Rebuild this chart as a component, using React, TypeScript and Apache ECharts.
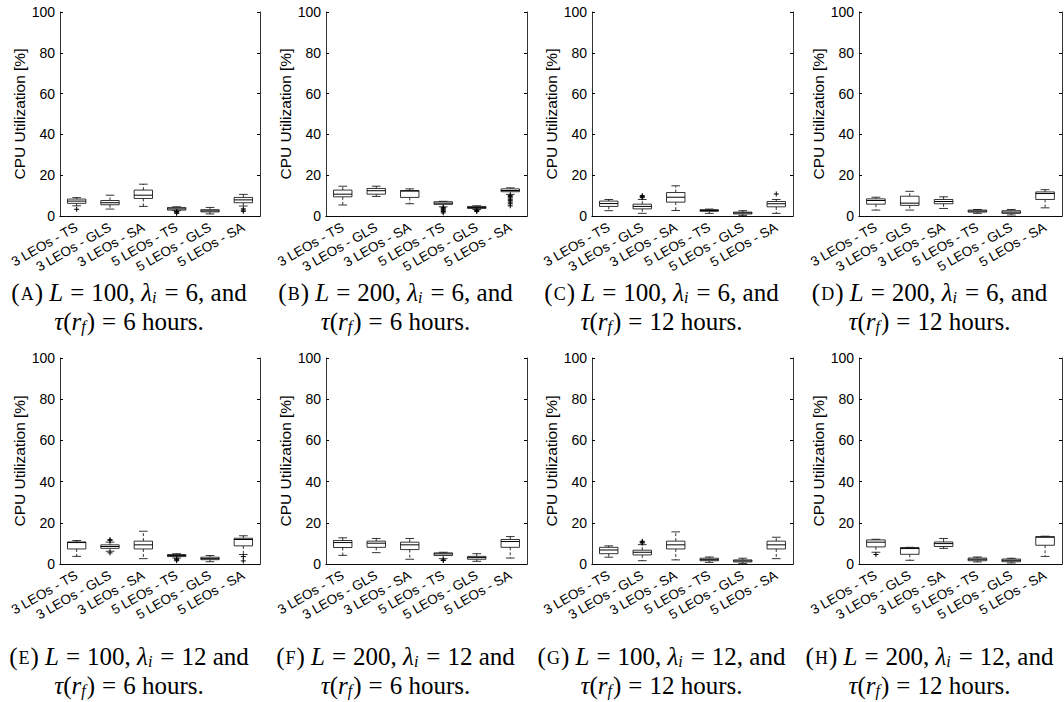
import React, { useEffect, useRef } from "react";
import * as echarts from "echarts";

// ---------- data ----------
const categories = ["3 LEOs - TS", "3 LEOs - GLS", "3 LEOs - SA", "5 LEOs - TS", "5 LEOs - GLS", "5 LEOs - SA"];
const yTicks = [0, 20, 40, 60, 80, 100];
const yAxisTitle = "CPU Utilization [%]";

// each box: [min, q1, median, q3, max]
const boxesA = [[5.0, 6.2, 7.3, 8.3, 9.0], [3.4, 5.5, 6.5, 7.6, 10.2], [4.7, 8.6, 10.2, 12.7, 15.6], [2.6, 2.9, 3.5, 4.2, 4.5], [1.0, 2.0, 2.5, 3.1, 4.2], [4.9, 6.5, 7.9, 9.1, 10.6]];
const boxesB = [[5.4, 9.4, 10.7, 12.7, 14.6], [9.6, 10.7, 12.4, 13.5, 14.6], [6.0, 9.1, 12.2, 12.5, 13.3], [4.5, 5.7, 6.3, 7.0, 7.2], [3.2, 3.7, 4.2, 4.7, 5.0], [10.6, 11.9, 12.5, 13.3, 13.8]];
const boxesC = [[2.6, 4.7, 6.1, 7.3, 8.1], [1.3, 3.5, 4.7, 5.8, 8.1], [2.7, 6.8, 9.2, 11.5, 14.8], [1.3, 2.3, 2.7, 3.1, 3.4], [0.3, 1.0, 1.5, 1.9, 2.6], [1.3, 4.5, 6.0, 7.1, 8.1]];
const boxesD = [[2.9, 5.8, 7.6, 8.4, 9.2], [2.9, 5.2, 6.3, 9.7, 12.1], [3.7, 6.0, 7.1, 8.1, 9.4], [1.3, 1.9, 2.4, 2.9, 3.2], [0.5, 1.3, 1.9, 2.6, 3.2], [4.0, 8.1, 11.0, 11.8, 12.9]];
const boxesE = [[3.7, 7.3, 10.4, 10.7, 11.4], [6.2, 7.6, 8.5, 9.3, 10.6], [2.6, 7.3, 9.3, 11.1, 15.9], [2.9, 3.6, 4.1, 4.6, 5.0], [1.1, 2.1, 2.6, 3.3, 4.1], [4.6, 8.8, 11.9, 12.5, 13.7]];
const boxesF = [[4.2, 8.0, 10.4, 11.4, 12.7], [5.5, 8.1, 10.1, 11.1, 12.4], [2.3, 7.0, 9.3, 10.6, 12.4], [2.6, 4.1, 4.9, 5.4, 5.7], [1.3, 2.3, 3.1, 3.7, 5.0], [2.9, 8.1, 10.9, 11.9, 13.3]];
const boxesG = [[3.3, 5.0, 6.8, 8.1, 8.8], [1.6, 4.4, 5.7, 6.7, 9.4], [2.0, 7.3, 9.3, 11.1, 15.6], [0.8, 1.6, 2.1, 2.8, 3.4], [0.3, 1.0, 1.5, 2.0, 2.8], [2.6, 7.3, 9.3, 11.1, 13.0]];
const boxesH = [[5.7, 8.3, 10.6, 11.7, 12.0], [1.8, 4.7, 7.5, 8.0, 8.1], [7.6, 8.5, 9.9, 10.7, 12.4], [1.0, 1.6, 2.3, 2.9, 3.4], [0.5, 1.1, 1.8, 2.4, 2.8], [3.7, 9.1, 13.0, 13.3, 13.5]];

// outliers: [category index, value]
const outliersA = [[0, 3.3], [3, 1.3], [3, 1.8], [3, 2.2], [5, 2.3], [5, 2.9], [5, 3.5]];
const outliersB = [[3, 1.5], [3, 2.2], [3, 2.8], [3, 3.3], [3, 3.8], [3, 4.1], [4, 2.2], [4, 2.6], [4, 2.9], [5, 5.0], [5, 6.0], [5, 6.8], [5, 7.5], [5, 8.2], [5, 8.9], [5, 9.5], [5, 10.1]];
const outliersC = [[1, 9.0], [1, 9.5], [1, 10.0], [5, 10.8]];
const outliersD: number[][] = [];
const outliersE = [[1, 11.5], [1, 11.8], [1, 5.4], [3, 1.6], [3, 2.1], [3, 2.5], [5, 3.6], [5, 1.5]];
const outliersF = [[3, 2.0], [3, 1.7]];
const outliersG = [[1, 10.2], [1, 10.6], [1, 11.0]];
const outliersH = [[0, 4.6]];

const panelBoxes = [boxesA, boxesB, boxesC, boxesD, boxesE, boxesF, boxesG, boxesH];
const panelOutliers = [outliersA, outliersB, outliersC, outliersD, outliersE, outliersF, outliersG, outliersH];

// captions
const panelLetters = ["A", "B", "C", "D", "E", "F", "G", "H"];
const lValues = [100, 200, 100, 200, 100, 200, 100, 200];
const lambdaValues = [6, 6, 6, 6, 12, 12, 12, 12];
const andTexts = [", and", ", and", ", and", ", and", " and", " and", ", and", ", and"];
const tauHours = [6, 6, 12, 12, 6, 6, 12, 12];

// ---------- layout ----------
const gridLefts = [60, 326, 592, 859];
const gridWidths = [200, 201, 201, 203];
const gridTops = [12, 358];
const gridHeights = [204, 206];
const captionY1 = [292, 656];
const captionY2 = [321, 685];

const SANS = "'Liberation Sans', Arial, Helvetica, sans-serif";
const SERIF = "'Liberation Serif', 'Times New Roman', serif";

function boxRender(params: any, api: any) {
  const idx = api.value(0);
  const cMin = api.coord([idx, api.value(1)]);
  const yQ1 = api.coord([idx, api.value(2)])[1];
  const yMed = api.coord([idx, api.value(3)])[1];
  const yQ3 = api.coord([idx, api.value(4)])[1];
  const yMax = api.coord([idx, api.value(5)])[1];
  const x = cMin[0];
  const yMin = cMin[1];
  const band = api.size([1, 0])[0];
  const bw = band * 0.55;
  const cw = band * 0.26;
  const st = { stroke: "#000", lineWidth: 0.8, fill: "none" };
  const dash = { stroke: "#000", lineWidth: 0.8, lineDash: [3, 2] };
  return {
    type: "group",
    children: [
      { type: "line", shape: { x1: x, y1: yQ3, x2: x, y2: yMax }, style: dash },
      { type: "line", shape: { x1: x, y1: yQ1, x2: x, y2: yMin }, style: dash },
      { type: "line", shape: { x1: x - cw / 2, y1: yMax, x2: x + cw / 2, y2: yMax }, style: st },
      { type: "line", shape: { x1: x - cw / 2, y1: yMin, x2: x + cw / 2, y2: yMin }, style: st },
      { type: "rect", shape: { x: x - bw / 2, y: yQ3, width: bw, height: yQ1 - yQ3 }, style: { fill: "#fff", stroke: "#000", lineWidth: 0.8 } },
      { type: "line", shape: { x1: x - bw / 2, y1: yMed, x2: x + bw / 2, y2: yMed }, style: { stroke: "#000", lineWidth: 1 } },
    ],
  };
}

function plusRender(params: any, api: any) {
  const c = api.coord([api.value(0), api.value(1)]);
  const h = 2.5;
  const st = { stroke: "#000", lineWidth: 1 };
  return {
    type: "group",
    children: [
      { type: "line", shape: { x1: c[0] - h, y1: c[1], x2: c[0] + h, y2: c[1] }, style: st },
      { type: "line", shape: { x1: c[0], y1: c[1] - h, x2: c[0], y2: c[1] + h }, style: st },
    ],
  };
}

function buildOption() {
  const grid: any[] = [];
  const xAxis: any[] = [];
  const yAxis: any[] = [];
  const series: any[] = [];
  const graphic: any[] = [];
  const FS = 25;
  const rich = {
    n: { fontFamily: SERIF, fontSize: FS, lineHeight: 30, color: "#000" },
    it: { fontFamily: SERIF, fontSize: FS, lineHeight: 30, fontStyle: "italic", color: "#000" },
    eq: { fontFamily: SERIF, fontSize: FS, lineHeight: 30, color: "#000", padding: [0, 7, 0, 7] },
    sc: { fontFamily: SERIF, fontSize: 18, color: "#000", padding: [4, 1, 0, 1] },
    sub: { fontFamily: SERIF, fontSize: 16, fontStyle: "italic", color: "#000", verticalAlign: "bottom", padding: [0, 1, 2, 0] },
  };
  for (let p = 0; p < 8; p++) {
    const row = Math.floor(p / 4);
    const col = p % 4;
    const left = gridLefts[col];
    const width = gridWidths[col];
    grid.push({ left, top: gridTops[row], width, height: gridHeights[row], containLabel: false });
    const axisLine = { show: true, lineStyle: { color: "#000", width: 0.8 } };
    xAxis.push({
      type: "category", gridIndex: p, data: categories, position: "bottom",
      axisLine, axisTick: { inside: true, length: 3, alignWithLabel: true, lineStyle: { color: "#000" } },
      axisLabel: { rotate: 30, fontSize: 13.5, color: "#000", fontFamily: SANS, margin: 10, interval: 0 },
      splitLine: { show: false },
    });
    xAxis.push({
      type: "category", gridIndex: p, data: categories, position: "top",
      axisLine, axisTick: { inside: true, length: 3, alignWithLabel: true, lineStyle: { color: "#000" } },
      axisLabel: { show: false }, splitLine: { show: false },
    });
    yAxis.push({
      type: "value", gridIndex: p, min: yTicks[0], max: yTicks[yTicks.length - 1], interval: 20, position: "left",
      name: yAxisTitle, nameLocation: "middle", nameGap: 31, nameRotate: 90,
      nameTextStyle: { fontFamily: SANS, fontSize: 15.5, color: "#000" },
      axisLine, axisTick: { show: true, inside: true, length: 3, lineStyle: { color: "#000" } },
      axisLabel: { fontFamily: SANS, fontSize: 14, color: "#000", margin: 5 },
      splitLine: { show: false },
    });
    yAxis.push({
      type: "value", gridIndex: p, min: yTicks[0], max: yTicks[yTicks.length - 1], interval: 20, position: "right",
      axisLine, axisTick: { show: true, inside: true, length: 3, lineStyle: { color: "#000" } },
      axisLabel: { show: false }, splitLine: { show: false },
    });
    series.push({
      type: "custom", xAxisIndex: 2 * p, yAxisIndex: 2 * p,
      renderItem: boxRender,
      encode: { x: 0, y: [1, 2, 3, 4, 5] },
      data: panelBoxes[p].map((b, i) => [i, ...b]),
      z: 2,
    });
    series.push({
      type: "custom", xAxisIndex: 2 * p, yAxisIndex: 2 * p,
      renderItem: plusRender,
      encode: { x: 0, y: 1 },
      data: panelOutliers[p],
      z: 3,
    });
    const cx = left + width / 2 - 31;
    graphic.push({
      type: "text", x: cx, y: captionY1[row],
      style: {
        text: `{n|(}{sc|${panelLetters[p]}}{n|) }{it|L}{eq|=}{n|${lValues[p]}, }{it|λ}{sub|i}{eq|=}{n|${lambdaValues[p]}${andTexts[p]}}`,
        rich, align: "center", verticalAlign: "middle", fontFamily: SERIF, fontSize: FS,
      },
    });
    graphic.push({
      type: "text", x: cx, y: captionY2[row],
      style: {
        text: `{it|τ}{n|(}{it|r}{sub|f}{n|)}{eq|=}{n|${tauHours[p]} hours.}`,
        rich, align: "center", verticalAlign: "middle", fontFamily: SERIF, fontSize: FS,
      },
    });
  }
  return { animation: false, backgroundColor: "#fff", grid, xAxis, yAxis, series, graphic };
}

export default function App() {
  const ref = useRef<HTMLDivElement>(null);
  useEffect(() => {
    document.body.style.margin = "0";
    const chart = echarts.init(ref.current!, undefined, { renderer: "svg" });
    chart.setOption(buildOption() as any);
    return () => chart.dispose();
  }, []);
  return <div ref={ref} style={{ width: 1064, height: 702 }} />;
}
